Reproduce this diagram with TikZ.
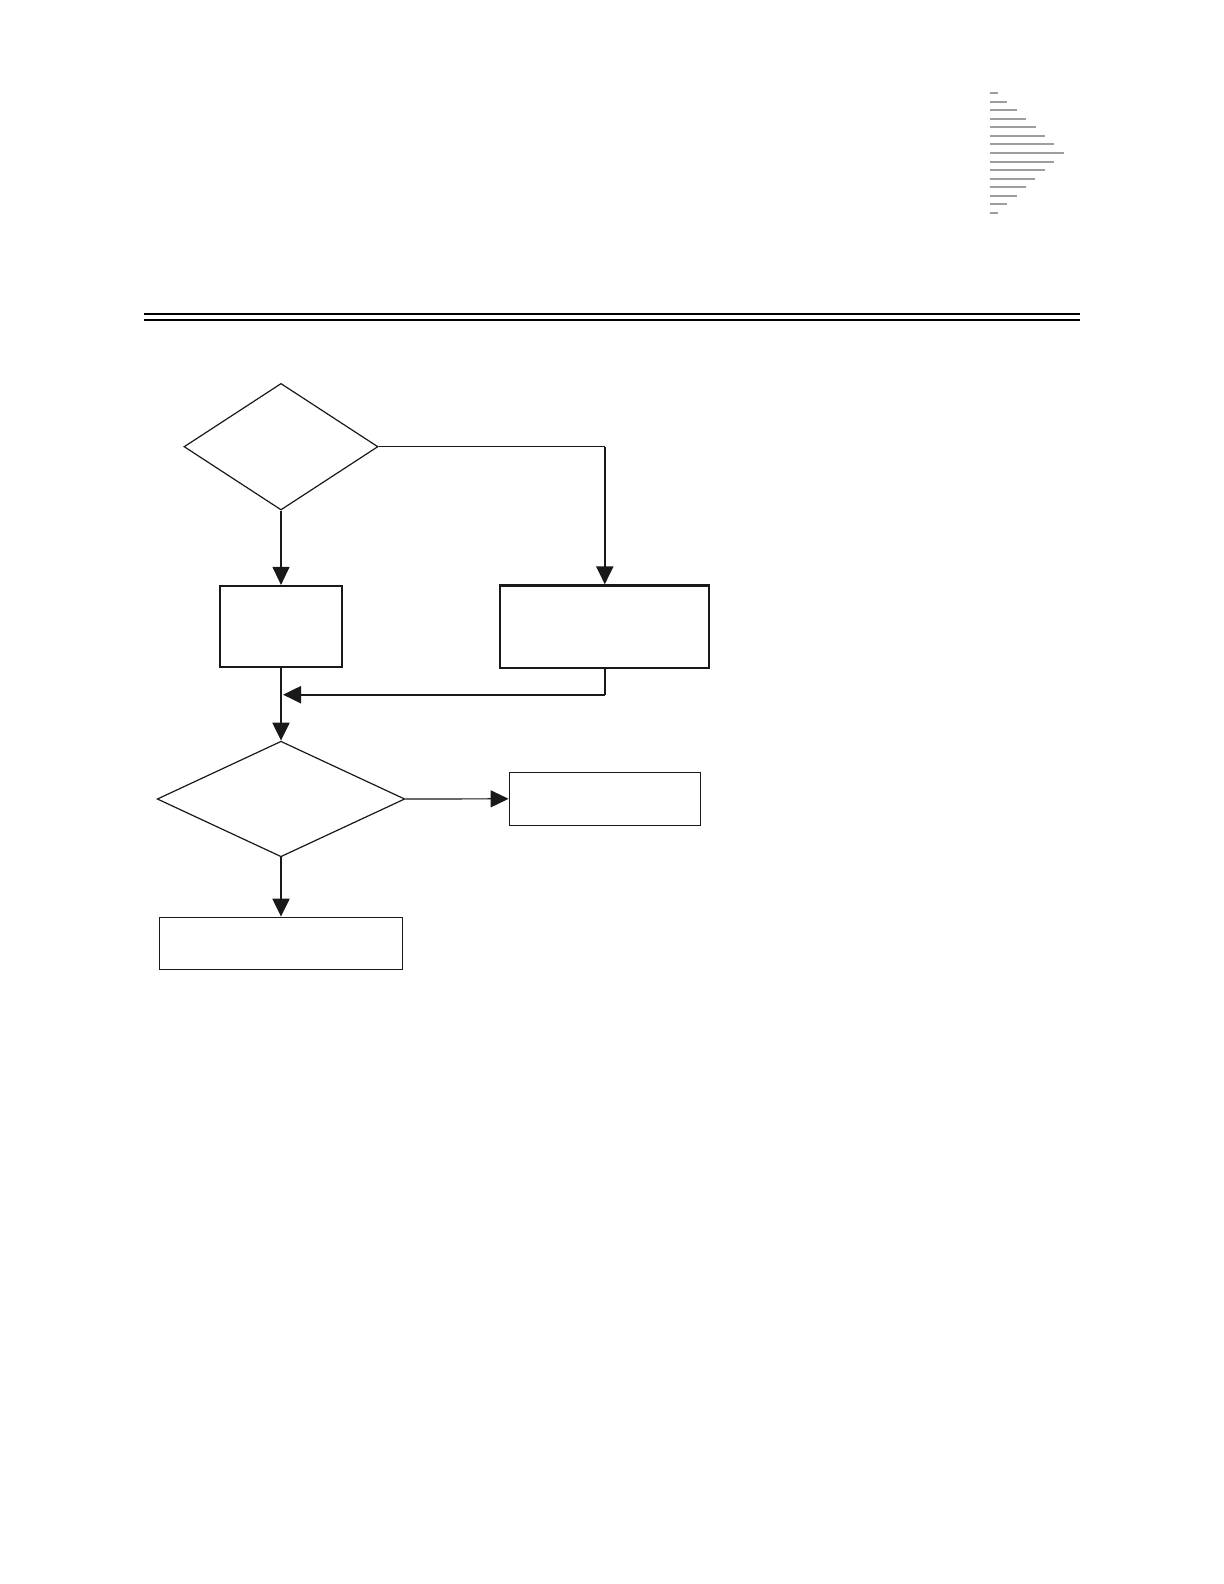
\documentclass[tikz,border=0pt]{standalone}
\usetikzlibrary{shapes.geometric,arrows.meta}
\begin{document}
\begin{tikzpicture}[x=0.5pt,y=-0.5pt,
  thinline/.style={line width=0.6pt,draw=black!90},
  thickline/.style={line width=1.1pt,draw=black!90},
  tip/.style={-{Triangle[length=9pt,width=8.5pt]}},
  dec/.style={shape=diamond,draw=black!90,line width=0.6pt,inner sep=0pt},
  thickbox/.style={shape=rectangle,draw=black!90,line width=1.1pt,inner sep=0pt},
  thinbox/.style={shape=rectangle,draw=black!90,line width=0.7pt,inner sep=0pt},
  rule/.style={line width=1.1pt,draw=black},
  bar/.style={line width=1pt,draw=black!38}]
\useasboundingbox[fill=white] (0,0) rectangle (1224,1584);
% header rules
\draw[rule] (144,314) -- (1080,314);
\draw[rule] (144,320) -- (1080,320);
% gray triangle of bars
\foreach \i/\len in {0/8,1/17,2/27,3/36,4/46,5/55,6/64,7/74,8/64,9/55,10/45,11/36,12/27,13/17,14/8}{
  \draw[bar] (990,{93+8.57*\i}) -- ({990+\len},{93+8.57*\i});
}
% nodes
\node[dec,minimum width=97pt,minimum height=63.3pt] (d1) at (281,446.7) {};
\node[thickbox,minimum width=61.3pt,minimum height=40.3pt] (b1) at (281,626.3) {};
\node[thickbox,minimum width=104.5pt,minimum height=41.3pt] (b2) at (604.8,626.7) {};
\node[dec,minimum width=123.8pt,minimum height=57.8pt] (d2) at (281,799) {};
\node[thinbox,minimum width=95.7pt,minimum height=26.5pt] (b3) at (605,798.8) {};
\node[thinbox,minimum width=121.7pt,minimum height=26pt] (b4) at (281,943.3) {};
% connectors
\draw[thinline,tip] (d1.south) -- (b1.north);
\coordinate (c1) at (b2.north |- d1.east);
\draw[thinline] (d1.east) -- (c1);
\draw[thickline,tip] (c1) -- (b2.north);
\coordinate (c2) at (b2.south |- 0,694.7);
\coordinate (m1) at (283,694.7);
\draw[thickline] (b2.south) -- (c2);
\draw[thickline,tip] (c2) -- (m1);
\draw[thickline,tip] (b1.south) -- (d2.north);
\draw[thinline,tip] (d2.east) -- (b3.west);
\draw[thickline,tip] (d2.south) -- (b4.north);
\end{tikzpicture}
\end{document}
